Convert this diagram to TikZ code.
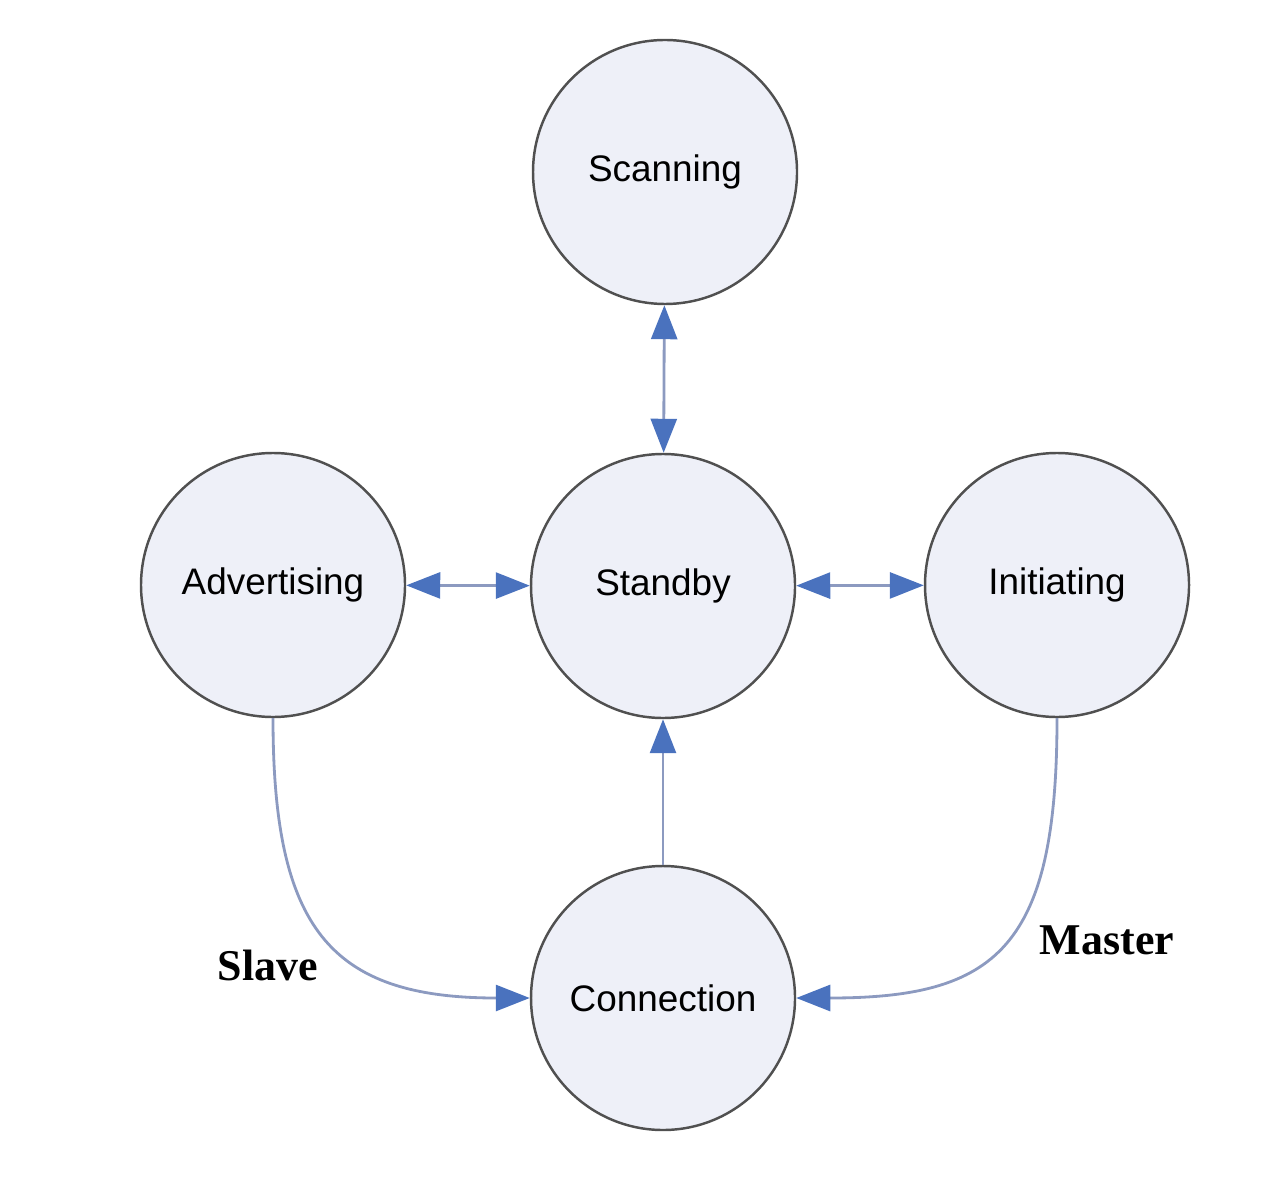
\documentclass[tikz,border=0pt]{standalone}
\usepackage{fontspec}
\setmainfont{Liberation Sans}
\newfontfamily\labelfont{Liberation Serif}
\usetikzlibrary{arrows.meta}
\definecolor{statefill}{HTML}{EEF0F8}
\definecolor{stateline}{HTML}{505050}
\definecolor{linkline}{HTML}{8C9AC0}
\definecolor{tipblue}{HTML}{4A72BE}
\tikzset{
  state/.style={circle, draw=stateline, line width=0.7pt, fill=statefill,
    minimum size=2.64cm, inner sep=0pt, font=\fontsize{10.5}{12}\selectfont},
  link/.style={draw=linkline, line width=0.8pt,
    >={Triangle[length=3.4mm, width=2.6mm, color=tipblue]}},
  role/.style={font=\labelfont\bfseries\fontsize{12.5}{14}\selectfont}
}
\begin{document}
\begin{tikzpicture}
  \useasboundingbox (0,0) rectangle (12.8,-11.9);
  \node[state] (scan) at (6.65,-1.72) {Scanning};
  \node[state] (stby) at (6.63,-5.86) {Standby};
  \node[state] (adv) at (2.73,-5.85) {Advertising};
  \node[state] (init) at (10.57,-5.85) {Initiating};
  \node[state] (conn) at (6.63,-9.98) {Connection};
  % links
  \draw[link, <->] (scan) -- (stby);
  \draw[link, <->] (adv) -- (stby);
  \draw[link, <->] (stby) -- (init);
  \draw[link, ->] (conn) -- (stby);
  \draw[link, ->] (adv.south) .. controls +(0,-2.1) and +(-2.0,0) .. (conn.west);
  \draw[link, ->] (init.south) .. controls +(0,-2.3) and +(2.0,0) .. (conn.east);
  \node[role] (slave) at (2.68,-9.65) {Slave};
  \node[role] (master) at (11.07,-9.40) {Master};
\end{tikzpicture}
\end{document}
